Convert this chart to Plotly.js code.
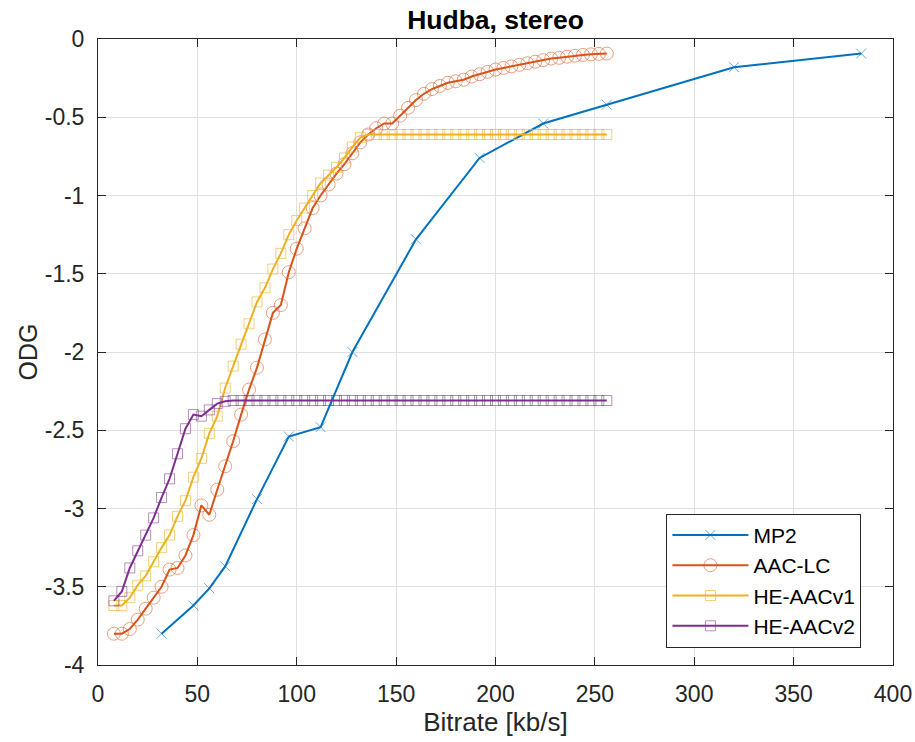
<!DOCTYPE html>
<html>
<head>
<meta charset="utf-8">
<script src="https://cdn.plot.ly/plotly-3.0.1.min.js"></script>
<style>
html,body{margin:0;padding:0;background:#fff;}
#chart{width:915px;height:742px;}
</style>
</head>
<body>
<div id="chart"></div>
<script>
// ---- data ----
const mp2Bitrate = [32, 48, 56, 64, 80, 96, 112, 128, 160, 192, 224, 256, 320, 384];
const mp2ODG = [-3.80, -3.62, -3.51, -3.37, -2.94, -2.54, -2.48, -2.00, -1.28, -0.76, -0.54, -0.42, -0.18, -0.093];

const aacBitrate = [
  8, 12, 16, 20, 24, 28, 32, 36, 40, 44,
  48, 52, 56, 60, 64, 68, 72, 76, 80, 84,
  88, 92, 96, 100, 104, 108, 112, 116, 120, 124,
  128, 132, 136, 140, 144, 148, 152, 156, 160, 164,
  168, 172, 176, 180, 184, 188, 192, 196, 200, 204,
  208, 212, 216, 220, 224, 228, 232, 236, 240, 244,
  248, 252, 256
];

const aacLcODG = [
  -3.80, -3.80, -3.77, -3.71, -3.64, -3.57, -3.50, -3.39, -3.38, -3.30,
  -3.17, -2.98, -3.04, -2.88, -2.73, -2.57, -2.40, -2.24, -2.10, -1.92,
  -1.75, -1.70, -1.49, -1.34, -1.21, -1.08, -1.00, -0.93, -0.86, -0.80,
  -0.73, -0.66, -0.61, -0.57, -0.54, -0.54, -0.49, -0.44, -0.39, -0.35,
  -0.32, -0.30, -0.28, -0.27, -0.26, -0.24, -0.225, -0.21, -0.195, -0.185,
  -0.175, -0.165, -0.155, -0.145, -0.135, -0.125, -0.12, -0.113, -0.107, -0.102,
  -0.098, -0.095, -0.093
];

const heAacV1ODG = [
  -3.62, -3.62, -3.57, -3.49, -3.43, -3.34, -3.25, -3.17, -3.05, -2.95,
  -2.80, -2.68, -2.52, -2.41, -2.23, -2.09, -1.95, -1.82, -1.68, -1.59,
  -1.47, -1.37, -1.25, -1.16, -1.08, -1.00, -0.92, -0.87, -0.82, -0.76,
  -0.69, -0.63, -0.61, -0.61, -0.61, -0.61, -0.61, -0.61, -0.61, -0.61,
  -0.61, -0.61, -0.61, -0.61, -0.61, -0.61, -0.61, -0.61, -0.61, -0.61,
  -0.61, -0.61, -0.61, -0.61, -0.61, -0.61, -0.61, -0.61, -0.61, -0.61,
  -0.61, -0.61, -0.61
];

const heAacV2ODG = [
  -3.59, -3.53, -3.38, -3.27, -3.17, -3.06, -2.93, -2.81, -2.65, -2.49,
  -2.40, -2.41, -2.37, -2.33, -2.315, -2.31, -2.31, -2.31, -2.31, -2.31,
  -2.31, -2.31, -2.31, -2.31, -2.31, -2.31, -2.31, -2.31, -2.31, -2.31,
  -2.31, -2.31, -2.31, -2.31, -2.31, -2.31, -2.31, -2.31, -2.31, -2.31,
  -2.31, -2.31, -2.31, -2.31, -2.31, -2.31, -2.31, -2.31, -2.31, -2.31,
  -2.31, -2.31, -2.31, -2.31, -2.31, -2.31, -2.31, -2.31, -2.31, -2.31,
  -2.31, -2.31, -2.31
];

const seriesNames = ['MP2', 'AAC-LC', 'HE-AACv1', 'HE-AACv2'];

const xTickVals = [0, 50, 100, 150, 200, 250, 300, 350, 400];
const xTickText = ['0', '50', '100', '150', '200', '250', '300', '350', '400'];
const yTickVals = [-4, -3.5, -3, -2.5, -2, -1.5, -1, -0.5, 0];
const yTickText = ['-4', '-3.5', '-3', '-2.5', '-2', '-1.5', '-1', '-0.5', '0'];

// ---- styling ----
const FONT = '"Liberation Sans", Arial, Helvetica, sans-serif';
const AX = '#262626';

function trace(name, x, y, color, markerColor, symbol, size) {
  return {
    type: 'scatter', mode: 'lines+markers', name: name, x: x, y: y,
    line: {color: color, width: 2},
    marker: {symbol: symbol, size: size, color: markerColor,
             line: {color: markerColor, width: 1}},
    cliponaxis: false
  };
}

const data = [
  trace(seriesNames[0], mp2Bitrate, mp2ODG, '#0072BD', 'rgba(0,114,189,0.6)', 'x-thin-open', 10),
  trace(seriesNames[1], aacBitrate, aacLcODG, '#D95319', 'rgba(217,83,25,0.55)', 'circle-open', 13),
  trace(seriesNames[2], aacBitrate, heAacV1ODG, '#EDB120', 'rgba(237,177,32,0.6)', 'square-open', 10),
  trace(seriesNames[3], aacBitrate, heAacV2ODG, '#7E2F8E', 'rgba(126,47,142,0.55)', 'square-open', 10)
];

const axisCommon = {
  showline: true, linecolor: AX, linewidth: 1, mirror: 'ticks',
  ticks: 'inside', ticklen: 8, tickwidth: 1, tickcolor: AX,
  showgrid: true, gridcolor: '#e0e0e0', gridwidth: 1,
  zeroline: false, tickmode: 'array',
  tickfont: {family: FONT, size: 23, color: AX}
};

const layout = {
  width: 915, height: 742,
  margin: {l: 98, r: 22, t: 39, b: 77, pad: 0},
  paper_bgcolor: '#fff', plot_bgcolor: '#fff',
  font: {family: FONT, color: AX},
  title: {text: '<b>Hudba, stereo</b>', font: {family: FONT, size: 26.5, color: '#000'},
          x: 0.5, xref: 'paper', xanchor: 'center', y: 1 - 20 / 742, yref: 'container', yanchor: 'middle'},
  xaxis: Object.assign({}, axisCommon, {
    range: [0, 400], tickvals: xTickVals, ticktext: xTickText,
    ticklabelstandoff: 8,
    title: {text: 'Bitrate [kb/s]', font: {family: FONT, size: 26, color: AX}, standoff: 5}
  }),
  yaxis: Object.assign({}, axisCommon, {
    range: [-4, 0], tickvals: yTickVals, ticktext: yTickText,
    ticklabelstandoff: 8,
    title: {text: 'ODG', font: {family: FONT, size: 25, color: AX}, standoff: 0}
  }),
  showlegend: true,
  legend: {
    x: 0.715, y: 0.2416, xanchor: 'left', yanchor: 'top',
    bgcolor: '#fff', bordercolor: AX, borderwidth: 1,
    font: {family: FONT, size: 21, color: '#000'},
    itemwidth: 76, tracegroupgap: 0
  }
};

Plotly.newPlot('chart', data, layout, {displayModeBar: false, staticPlot: true});
</script>
</body>
</html>
